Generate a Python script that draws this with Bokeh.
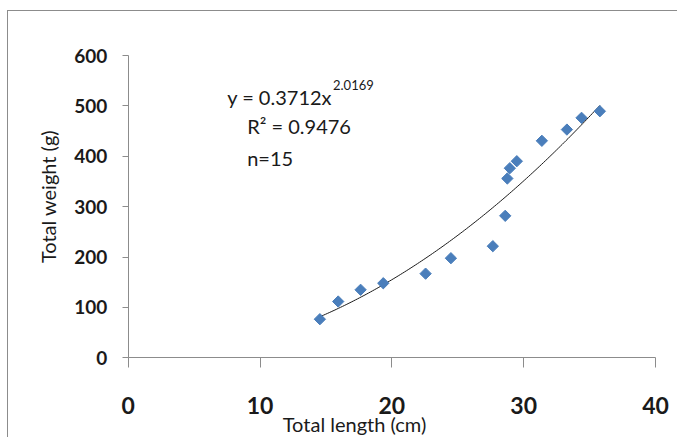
import numpy as np
from bokeh.plotting import figure
from bokeh.models import Range1d, FixedTicker, Label
from bokeh.embed import file_html
from bokeh.resources import INLINE

# ---- Data ----
length_cm = [14.54, 15.93, 17.63, 19.35, 22.56, 24.48, 27.66, 28.60, 28.76, 28.95, 29.48, 31.38, 33.28, 34.39, 35.78]
weight_g = [76.6, 111.7, 135, 148, 167, 197.7, 221.5, 281.8, 355.9, 376.3, 390.2, 430.7, 453, 476.3, 489.4]
x_ticks = [0, 10, 20, 30, 40]
y_ticks = [0, 100, 200, 300, 400, 500, 600]
x_title = "Total length (cm)"
y_title = "Total weight (g)"
equation = "y = 0.3712x"
exponent = "2.0169"
r_squared = "R² = 0.9476"
n_text = "n=15"

FONT = "Lato"
TXT = "#1a1a1a"
GRID = "#8c8c8c"

# ---- Layout (pixels) ----
W, H = 670, 427                 # canvas size (page offset 8, 11)
X0_PX, X40_PX = 119.7, 647.0    # canvas x of x=0 and x=40
Y0_PX, Y600_PX = 346.3, 44.0    # canvas y of y=0 and y=600
sx = (X40_PX - X0_PX) / 40.0
sy = (Y0_PX - Y600_PX) / 600.0
x_range = Range1d(-X0_PX / sx, 40 + (W - X40_PX) / sx)
y_range = Range1d(-(H - Y0_PX) / sy, 600 + Y600_PX / sy)

p = figure(width=W, height=H, output_backend="svg", toolbar_location=None,
           x_range=x_range, y_range=y_range,
           min_border=0, min_border_left=0, min_border_right=0,
           min_border_top=0, min_border_bottom=0)
p.styles = {"margin-left": "7px", "margin-top": "10px",
            "border-left": f"1px solid {GRID}", "border-top": f"1px solid {GRID}"}
p.outline_line_color = None
p.xgrid.visible = False
p.ygrid.visible = False
p.background_fill_color = "white"
p.border_fill_color = "white"

for ax in (p.xaxis[0], p.yaxis[0]):
    ax.fixed_location = 0
    ax.axis_line_color = GRID
    ax.major_tick_line_color = GRID
    ax.minor_tick_line_color = None
    ax.major_tick_in = 0
    ax.major_label_text_font = FONT
    ax.major_label_text_font_style = "bold"
    ax.major_label_text_color = TXT

p.xaxis.bounds = (0, 40)
p.yaxis.bounds = (0, 600)
p.xaxis.ticker = FixedTicker(ticks=x_ticks)
p.yaxis.ticker = FixedTicker(ticks=y_ticks)
p.xaxis.major_tick_out = 10
p.yaxis.major_tick_out = 6
p.xaxis.major_label_text_font_size = "23px"
p.yaxis.major_label_text_font_size = "19px"
p.xaxis.major_label_standoff = 29
p.yaxis.major_label_standoff = 15

# ---- Trend line: power-law least-squares fit of the data ----
lx = np.log(np.array(length_cm))
ly = np.log(np.array(weight_g))
b, loga = np.polyfit(lx, ly, 1)
xs = np.linspace(min(length_cm), max(length_cm), 150)
ys = np.exp(loga) * xs ** b
p.line(xs, ys, line_color="#1a1a1a", line_width=1)

# ---- Points (diamonds) ----
p.scatter(length_cm, weight_g, marker="square", angle=np.pi / 4, size=8,
          fill_color="#4A7EBB", line_color="#4A7EBB")

# ---- Texts (screen units: from the canvas' bottom-left; y = text middle) ----
def add_label(text, x, y, size, align="left", angle=0.0):
    p.add_layout(Label(x=x, y=y, x_units="screen", y_units="screen", text=text,
                       text_font=FONT, text_font_size=size, text_align=align,
                       text_baseline="middle", text_color=TXT, angle=angle))

add_label(equation, 218.7, H - 85.2, "20px")
add_label(exponent, 324.5, H - 73.6, "13px")
add_label(r_squared, 238.7, H - 114.5, "20px")
add_label(n_text, 238.7, H - 146.8, "20px")
add_label(x_title, 346.0, H - 412.0, "20px", align="center")
add_label(y_title, 39.0, H - 185.0, "20px", align="center", angle=np.pi / 2)

open("out.html", "w").write(file_html(p, INLINE))
